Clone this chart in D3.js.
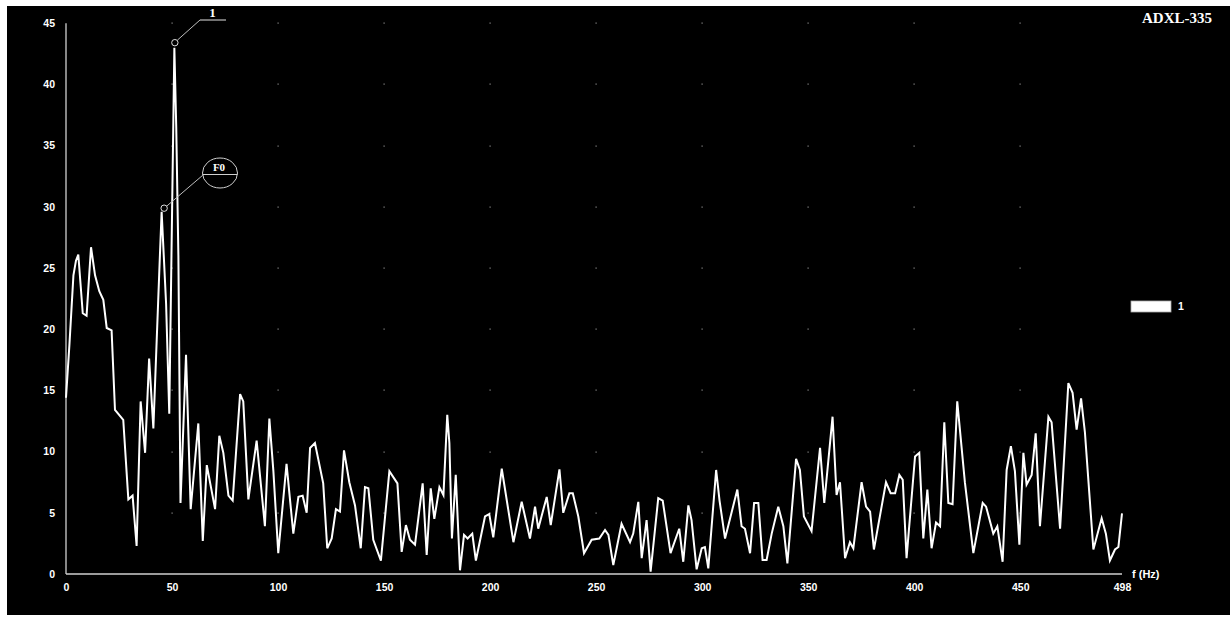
<!DOCTYPE html>
<html>
<head>
<meta charset="utf-8">
<script src="https://cdn.jsdelivr.net/npm/d3@7"></script>
<style>
  html, body { margin: 0; padding: 0; background: #fff; }
  svg { display: block; }
</style>
</head>
<body>
<svg id="chart" width="1230" height="619"></svg>
<script>
// ---- data ----
const title = "ADXL-335";
const seriesName = "1";
const xTicks = [0, 50, 100, 150, 200, 250, 300, 350, 400, 450, 498];
const yTicks = [0, 5, 10, 15, 20, 25, 30, 35, 40, 45];
const freq = [
  0, 1.6, 3.5, 4.7, 5.8, 7.9, 9.7, 11.8, 13.7, 15.7, 17.6, 19.2, 21.5, 23.1, 27.0, 29.4, 31.4, 33.3,
  35.2, 37.3, 39.2, 41.2, 44.3, 45.1, 47.2, 48.7, 51.1, 52.0, 53.0, 54.0, 56.6, 58.8, 62.4, 64.5,
  66.4, 70.3, 72.3, 74.2, 76.6, 78.6, 82.1, 83.6, 86.0, 89.9, 93.8, 95.9, 97.8, 100.1, 104.0, 107.2,
  109.6, 111.6, 113.5, 115.1, 117.4, 121.3, 123.2, 125.3, 127.3, 129.2, 131.1, 133.6, 136.3, 139.0,
  141.0, 142.6, 144.9, 148.5, 152.5, 156.3, 158.3, 160.3, 162.2, 164.6, 168.2, 170.1, 172.0, 173.7,
  176.1, 178.0, 179.8, 180.8, 182.0, 183.8, 185.8, 187.7, 189.4, 191.6, 193.3, 197.6, 199.6, 201.5,
  205.5, 211.0, 214.9, 218.8, 221.2, 222.7, 226.7, 228.6, 232.7, 234.5, 237.4, 239.0, 241.6, 244.3,
  247.9, 251.5, 254.2, 255.8, 258.1, 262.0, 266.0, 267.5, 269.9, 271.5, 273.8, 275.7, 279.3, 281.4,
  285.1, 289.2, 291.1, 293.5, 295.0, 297.4, 299.8, 301.3, 302.9, 306.6, 308.2, 310.8, 316.6, 318.6,
  320.2, 322.6, 324.5, 326.5, 328.5, 330.4, 332.8, 335.9, 338.3, 340.2, 344.3, 346.1, 348.0, 351.6,
  355.6, 357.6, 361.5, 363.4, 365.0, 367.4, 369.7, 371.3, 375.2, 377.3, 379.2, 381.0, 386.7, 388.9,
  391.0, 393.0, 394.6, 396.4, 400.4, 402.4, 404.3, 406.2, 408.2, 410.3, 412.2, 414.2, 416.1, 418.1,
  420.3, 423.9, 427.9, 432.3, 433.9, 437.3, 439.2, 441.7, 443.6, 445.6, 447.5, 449.6, 451.5, 453.0,
  455.4, 457.3, 459.3, 463.3, 464.8, 468.8, 472.7, 474.7, 476.6, 478.7, 480.5, 484.5, 488.4, 490.4,
  492.3, 494.7, 496.3, 498
];
const amplitude = [
  14.4, 18.7, 24.4, 25.6, 26.1, 21.3, 21.1, 26.7, 24.4, 23.1, 22.4, 20.1, 19.9, 13.4, 12.6, 6.1, 6.4, 2.3,
  14.1, 9.9, 17.6, 11.9, 26.1, 29.6, 22.1, 13.1, 43.0, 36.4, 26.0, 5.8, 17.9, 5.3, 12.3, 2.7,
  8.9, 5.3, 11.3, 9.9, 6.4, 6.0, 14.7, 14.1, 6.1, 10.9, 3.9, 12.7, 8.4, 1.7, 9.0, 3.3,
  6.3, 6.4, 5.0, 10.3, 10.7, 7.4, 2.1, 2.9, 5.3, 5.1, 10.1, 7.5, 5.6, 2.1,
  7.1, 7.0, 2.8, 1.1, 8.4, 7.4, 1.8, 4.0, 2.8, 2.4, 7.4, 1.55, 7.0, 4.5,
  7.1, 6.45, 13.0, 10.7, 2.9, 8.1, 0.3, 3.2, 2.9, 3.3, 1.1, 4.7, 4.9, 3.0,
  8.6, 2.6, 5.9, 2.9, 5.5, 3.7, 6.3, 4.0, 8.55, 5.0, 6.6, 6.6, 4.7, 1.7,
  2.8, 2.9, 3.6, 3.2, 0.73, 4.1, 2.6, 3.3, 5.9, 1.3, 4.4, 0.2, 6.2, 6.0,
  1.7, 3.7, 1.0, 5.6, 4.4, 0.38, 2.1, 2.2, 0.46, 8.5, 6.0, 2.9, 6.9, 3.9,
  3.7, 1.7, 5.8, 5.8, 1.14, 1.14, 3.3, 5.5, 3.9, 0.87, 9.4, 8.5, 4.7, 3.5,
  10.3, 5.8, 12.85, 6.45, 7.5, 1.3, 2.6, 2.1, 7.5, 5.5, 5.1, 2.0, 7.5, 6.6,
  6.6, 8.1, 7.7, 1.3, 9.6, 9.9, 2.9, 6.9, 2.1, 4.2, 3.9, 12.4, 5.8, 5.7,
  14.1, 7.5, 1.7, 5.8, 5.5, 3.3, 3.9, 1.0, 8.5, 10.45, 8.4, 2.4, 9.9, 7.3,
  8.1, 11.5, 3.9, 12.85, 12.4, 3.7, 15.6, 14.8, 11.8, 14.35, 11.6, 2.0, 4.55, 3.3,
  1.1, 2.0, 2.2, 4.95
];
// annotated points
const annotations = [
  { label: "1",  f: 51.1, v: 43.0 },
  { label: "F0", f: 45.1, v: 29.6 }
];

// ---- drawing ----
const svg = d3.select("#chart");
const W = 1230, H = 619;

svg.append("rect").attr("x", 0).attr("y", 0).attr("width", W).attr("height", H).attr("fill", "#fff");
svg.append("rect").attr("x", 7).attr("y", 6).attr("width", W - 7).attr("height", 609).attr("fill", "#000");

const x = d3.scaleLinear().domain([0, 498]).range([66, 1122]);
const y = d3.scaleLinear().domain([0, 45]).range([574, 23.2]);

// grid dots
const dots = svg.append("g").attr("fill", "#8a8a8a");
xTicks.filter(t => t > 0 && t < 498).forEach(tx => {
  yTicks.filter(t => t > 0).forEach(ty => {
    dots.append("rect")
      .attr("x", Math.round(x(tx)) - 0.5).attr("y", Math.round(y(ty)) - 0.5)
      .attr("width", 1.2).attr("height", 1.2);
  });
});

// axes lines
const axisColor = "#cfcfcf";
svg.append("line").attr("x1", x(0)).attr("x2", x(0)).attr("y1", y(45)).attr("y2", y(0))
  .attr("stroke", axisColor).attr("stroke-width", 1.3);
svg.append("line").attr("x1", x(0)).attr("x2", x(498)).attr("y1", y(0)).attr("y2", y(0))
  .attr("stroke", axisColor).attr("stroke-width", 1.3);

// y axis labels via d3 axis
const yAxis = d3.axisLeft(y).tickValues(yTicks).tickSize(0).tickPadding(11).tickFormat(d3.format("d"));
const gy = svg.append("g").attr("transform", `translate(${x(0)},0)`).call(yAxis);
gy.select(".domain").remove();
gy.selectAll("text").attr("fill", "#fff").attr("font-family", "Liberation Sans, Arial, sans-serif")
  .attr("font-weight", "bold").attr("font-size", "10.5px");

const xAxis = d3.axisBottom(x).tickValues(xTicks).tickSize(0).tickPadding(10).tickFormat(d3.format("d"));
const gx = svg.append("g").attr("transform", `translate(0,${y(0)})`).call(xAxis);
gx.select(".domain").remove();
gx.selectAll("text").attr("fill", "#fff").attr("font-family", "Liberation Sans, Arial, sans-serif")
  .attr("font-weight", "bold").attr("font-size", "10.5px");

// x axis title
svg.append("text").attr("x", 1132).attr("y", y(0) + 4).text("f (Hz)")
  .attr("fill", "#fff").attr("font-family", "Liberation Sans, Arial, sans-serif")
  .attr("font-weight", "bold").attr("font-size", "11px");

// series line
const data = freq.map((f, i) => ({ f, v: amplitude[i] }));
const line = d3.line().x(d => x(d.f)).y(d => y(d.v));
svg.append("path").datum(data).attr("d", line)
  .attr("fill", "none").attr("stroke", "#fff").attr("stroke-width", 2).attr("stroke-linejoin", "miter");

// annotations
const annColor = "#bdbdbd";
{
  const a = annotations[0];
  const cx = x(a.f) + 0.5, cy = y(a.v) - 5;
  svg.append("line").attr("x1", cx + 2.5).attr("y1", cy - 2.5).attr("x2", 200).attr("y2", 20)
    .attr("stroke", annColor).attr("stroke-width", 1);
  svg.append("line").attr("x1", 200).attr("y1", 20).attr("x2", 226).attr("y2", 20)
    .attr("stroke", annColor).attr("stroke-width", 1.2);
  svg.append("circle").attr("cx", cx).attr("cy", cy).attr("r", 3.2)
    .attr("fill", "#000").attr("stroke", "#e0e0e0").attr("stroke-width", 1);
  svg.append("text").attr("x", 212.5).attr("y", 17).attr("text-anchor", "middle").text(a.label)
    .attr("fill", "#fff").attr("font-family", "Liberation Serif, Times New Roman, serif")
    .attr("font-weight", "bold").attr("font-size", "13px");
}
{
  const a = annotations[1];
  const cx = x(a.f) + 2.5, cy = y(a.v) - 3.5;
  const ex = 220, ey = 173, rx = 17.5, ry = 15;
  svg.append("line").attr("x1", cx + 2.5).attr("y1", cy - 2).attr("x2", ex - rx + 0.5).attr("y2", ey + 2)
    .attr("stroke", annColor).attr("stroke-width", 1);
  svg.append("circle").attr("cx", cx).attr("cy", cy).attr("r", 3.2)
    .attr("fill", "#000").attr("stroke", "#e0e0e0").attr("stroke-width", 1);
  svg.append("ellipse").attr("cx", ex).attr("cy", ey).attr("rx", rx).attr("ry", ry)
    .attr("fill", "#000").attr("stroke", "#d0d0d0").attr("stroke-width", 1);
  svg.append("line").attr("x1", ex - rx).attr("x2", ex + rx).attr("y1", ey + 1.5).attr("y2", ey + 1.5)
    .attr("stroke", "#d0d0d0").attr("stroke-width", 1);
  svg.append("text").attr("x", ex - 1).attr("y", ey - 2).attr("text-anchor", "middle").text(a.label)
    .attr("fill", "#fff").attr("font-family", "Liberation Serif, Times New Roman, serif")
    .attr("font-weight", "bold").attr("font-size", "11px");
}

// title
svg.append("text").attr("x", 1212).attr("y", 22.5).attr("text-anchor", "end").text(title)
  .attr("fill", "#fff").attr("font-family", "Liberation Serif, Times New Roman, serif")
  .attr("font-weight", "bold").attr("font-size", "15px");

// legend
svg.append("rect").attr("x", 1131).attr("y", 301).attr("width", 40).attr("height", 11)
  .attr("fill", "#fff").attr("stroke", "#aaa").attr("stroke-width", 0.8);
svg.append("text").attr("x", 1178).attr("y", 309.5).text(seriesName)
  .attr("fill", "#fff").attr("font-family", "Liberation Sans, Arial, sans-serif")
  .attr("font-weight", "bold").attr("font-size", "10.5px");
</script>
</body>
</html>
